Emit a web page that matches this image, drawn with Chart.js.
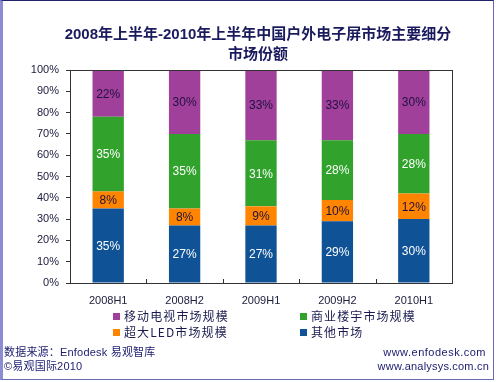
<!DOCTYPE html>
<html><head><meta charset="utf-8">
<script src="https://cdn.jsdelivr.net/npm/chart.js@4"></script>
<style>
html,body{margin:0;padding:0;background:#fff;}
#wrap{position:relative;width:496px;height:382px;overflow:hidden;font-family:Arial,"Liberation Sans","Noto Sans CJK SC",sans-serif;}
#frame{position:absolute;left:0;top:0;width:490px;height:378px;border:1px solid #6a6ab4;border-left:3px solid #8c8cd2;border-top:1px solid #22226a;}
#c{position:absolute;left:0;top:0;}
.t{position:absolute;left:0;width:516px;text-align:center;font-weight:bold;font-size:15px;color:#1a1a5e;font-family:Arial,"Liberation Sans","Noto Sans CJK SC",sans-serif;white-space:nowrap;}
.lg{position:absolute;font-size:12px;color:#1a1a50;white-space:nowrap;letter-spacing:1.1px;font-family:"Noto Sans CJK SC",Arial,sans-serif;line-height:14px;}
.lg i{display:inline-block;width:7px;height:7px;margin-right:4px;vertical-align:1px;}
.ft{position:absolute;font-size:11px;color:#1a1a6e;white-space:nowrap;letter-spacing:0.2px;line-height:13px;font-family:Arial,"Noto Sans CJK SC",sans-serif;}
</style></head>
<body>
<div id="wrap">
<canvas id="c" width="496" height="382"></canvas>
<div id="frame"></div>
<div class="t" style="top:22px;">2008年上半年-2010年上半年中国户外电子屏市场主要细分</div>
<div class="t" style="top:42px;">市场份额</div>
<div id="legend"></div>
<div class="ft" style="left:4px;top:346px;">数据来源：Enfodesk 易观智库</div>
<div class="ft" style="left:4px;top:360px;">©易观国际2010</div>
<div class="ft" style="right:10px;top:346px;letter-spacing:0.5px;">www.enfodesk.com</div>
<div class="ft" style="right:7px;top:360px;">www.analysys.com.cn</div>
</div>
<script>
const categories = ["2008H1","2008H2","2009H1","2009H2","2010H1"];
const otherMarket = [35,27,27,29,30];
const ledMarket = [8,8,9,10,12];
const buildingMarket = [35,35,31,28,28];
const mobileTvMarket = [22,30,33,33,30];
const seriesNames = ["其他市场","超大LED市场规模","商业楼宇市场规模","移动电视市场规模"];
const yTicks = [0,10,20,30,40,50,60,70,80,90,100];

const colors = ["#0f5396","#ff8400","#31a22c","#a0409a"];
const labelColors = ["#ffffff","#201040","#ffffff","#201040"];

// HTML legend (order: mobile, building, LED, other)
const legendLayout = [[3,113,309],[2,300,309],[1,113,325],[0,300,325]];
const lg = document.getElementById('legend');
legendLayout.forEach(([idx,x,y])=>{
  const d=document.createElement('div');d.className='lg';d.style.left=x+'px';d.style.top=y+'px';
  d.innerHTML='<i style="background:'+colors[idx]+'"></i>'+seriesNames[idx];lg.appendChild(d);
});

const valueLabels = {
  id:'valueLabels',
  afterDatasetsDraw(chart){
    const ctx=chart.ctx;
    ctx.save();
    ctx.font='12px Arial, "Liberation Sans", sans-serif';
    ctx.textAlign='center';ctx.textBaseline='middle';
    chart.data.datasets.forEach((ds,di)=>{
      const meta=chart.getDatasetMeta(di);
      meta.data.forEach((el,i)=>{
        const p=el.getProps(['x','y','base'],true);
        ctx.fillStyle=labelColors[di];
        ctx.fillText(ds.data[i]+'%',p.x,(p.y+p.base)/2+1);
      });
    });
    ctx.restore();
  }
};
const frameAndTicks = {
  id:'frameAndTicks',
  afterDraw(chart){
    const {ctx,chartArea:a,scales:{x}}=chart;
    ctx.save();
    ctx.strokeStyle='#333';ctx.lineWidth=1;
    ctx.beginPath();
    ctx.moveTo(a.left,a.top+0.5);ctx.lineTo(a.right+0.5,a.top+0.5);
    ctx.moveTo(a.right+0.5,a.top);ctx.lineTo(a.right+0.5,a.bottom);
    for(let i=1;i<categories.length;i++){
      const px=Math.round((x.getPixelForValue(i-1)+x.getPixelForValue(i))/2)+0.5;
      ctx.moveTo(px,a.bottom);ctx.lineTo(px,a.bottom-4);
    }
    ctx.stroke();
    ctx.restore();
  }
};

new Chart(document.getElementById('c'),{
  type:'bar',
  data:{
    labels:categories,
    datasets:[otherMarket,ledMarket,buildingMarket,mobileTvMarket].map((d,i)=>({
      label:seriesNames[i],data:d,backgroundColor:colors[i],borderWidth:0,
      categoryPercentage:1,barPercentage:0.41
    }))
  },
  options:{
    responsive:false,animation:false,
    layout:{padding:{left:30,right:44,top:70,bottom:69}},
    plugins:{legend:{display:false},title:{display:false},tooltip:{enabled:false}},
    scales:{
      x:{stacked:true,
        grid:{display:true,drawOnChartArea:false,drawTicks:false},
        border:{display:true,color:'#333',width:1},
        ticks:{color:'#202040',font:{size:11,family:'Arial'},padding:11},
        afterFit(s){s.height=30;}
      },
      y:{stacked:true,min:0,max:100,
        afterBuildTicks(s){s.ticks=yTicks.map(v=>({value:v}));},
        grid:{display:true,drawOnChartArea:false,drawTicks:true,tickLength:4,color:'#333'},
        border:{display:true,color:'#333',width:1},
        ticks:{color:'#202040',font:{size:11,family:'Arial'},padding:7,callback:v=>v+'%'},
        afterFit(s){s.width=40;}
      }
    }
  },
  plugins:[valueLabels,frameAndTicks]
});
</script>
</body></html>
